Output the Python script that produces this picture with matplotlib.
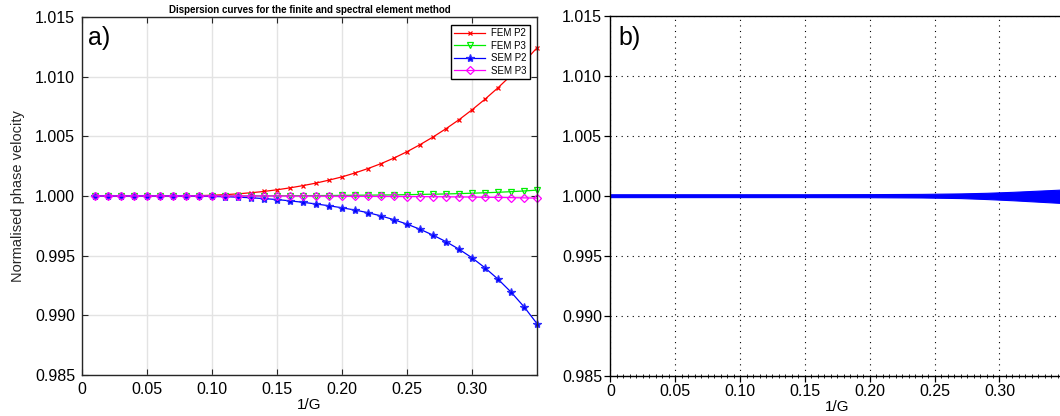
import matplotlib.pyplot as plt
from matplotlib.ticker import MultipleLocator

plt.rcParams['font.family'] = ['Liberation Sans', 'DejaVu Sans']

# 1/G sample points (panel a)
inv_g = [0.01, 0.02, 0.03, 0.04, 0.05, 0.06, 0.07, 0.08, 0.09, 0.10,
         0.11, 0.12, 0.13, 0.14, 0.15, 0.16, 0.17, 0.18, 0.19, 0.20,
         0.21, 0.22, 0.23, 0.24, 0.25, 0.26, 0.27, 0.28, 0.29, 0.30,
         0.31, 0.32, 0.33, 0.34, 0.35]

# normalised phase velocity
fem_p2 = [1.00000, 1.00000, 1.00000, 1.00000, 1.00000, 1.00001, 1.00001, 1.00002, 1.00003, 1.00006,
          1.00011, 1.00018, 1.00027, 1.00038, 1.00052, 1.00068, 1.00087, 1.00108, 1.00133, 1.00160,
          1.00193, 1.00230, 1.00271, 1.00318, 1.00371, 1.00430, 1.00494, 1.00564, 1.00639, 1.00722,
          1.00811, 1.00907, 1.01010, 1.01122, 1.01242]
fem_p3 = [1.00000, 1.00000, 1.00000, 1.00000, 1.00000, 1.00000, 1.00000, 1.00000, 1.00000, 1.00000,
          1.00000, 1.00000, 1.00001, 1.00001, 1.00002, 1.00002, 1.00003, 1.00003, 1.00004, 1.00005,
          1.00006, 1.00007, 1.00008, 1.00009, 1.00011, 1.00013, 1.00015, 1.00017, 1.00020, 1.00023,
          1.00027, 1.00031, 1.00036, 1.00042, 1.00049]
sem_p2 = [1.00000, 1.00000, 1.00000, 1.00000, 1.00000, 1.00000, 1.00000, 0.99999, 0.99998, 0.99996,
          0.99994, 0.99990, 0.99985, 0.99978, 0.99970, 0.99959, 0.99947, 0.99933, 0.99918, 0.99901,
          0.99882, 0.99860, 0.99833, 0.99801, 0.99764, 0.99721, 0.99672, 0.99617, 0.99554, 0.99482,
          0.99398, 0.99303, 0.99195, 0.99072, 0.98930]
sem_p3 = [1.00000, 1.00000, 1.00000, 1.00000, 1.00000, 1.00000, 1.00000, 1.00000, 1.00000, 1.00000,
          1.00000, 1.00000, 1.00000, 1.00000, 1.00000, 0.99999, 0.99999, 0.99999, 0.99998, 0.99998,
          0.99997, 0.99997, 0.99996, 0.99996, 0.99995, 0.99995, 0.99994, 0.99993, 0.99992, 0.99991,
          0.99989, 0.99988, 0.99986, 0.99984, 0.99982]

# panel b: envelope of the dense blue band
band_x = [0.0, 0.05, 0.10, 0.15, 0.20, 0.24, 0.27, 0.29, 0.31, 0.33, 0.35]
band_upper = [1.00012, 1.00012, 1.00012, 1.00012, 1.00013, 1.00015, 1.00019, 1.00024, 1.00032, 1.00042, 1.00052]
band_lower = [0.99988, 0.99988, 0.99988, 0.99988, 0.99987, 0.99985, 0.99980, 0.99972, 0.99962, 0.99950, 0.99938]

x_ticks = [0, 0.05, 0.10, 0.15, 0.20, 0.25, 0.30]
x_tick_labels = ["0", "0.05", "0.10", "0.15", "0.20", "0.25", "0.30"]
y_ticks = [0.985, 0.990, 0.995, 1.000, 1.005, 1.010, 1.015]
y_tick_labels = ["0.985", "0.990", "0.995", "1.000", "1.005", "1.010", "1.015"]

fig = plt.figure(figsize=(10.6, 4.16), dpi=100)
ax_a = fig.add_axes([0.0774, 0.0986, 0.4292, 0.8606])
ax_b = fig.add_axes([0.5758, 0.0969, 0.4283, 0.8654])

# ---- panel a ----
series = [
    (fem_p2, "FEM P2", dict(color="red", marker="x", markersize=3.5, mew=0.9)),
    (fem_p3, "FEM P3", dict(color="#00ee00", marker="v", markersize=5, mfc="none", mew=0.9)),
    (sem_p2, "SEM P2", dict(color="blue", marker="*", markersize=6, mec="#2a2aff", mew=0.9)),
    (sem_p3, "SEM P3", dict(color="magenta", marker="D", markersize=4, mfc="none", mew=0.9)),
]
for values, label, style in series:
    ax_a.plot(inv_g, values, label=label, linewidth=0.9, clip_on=False, **style)

ax_a.set_xlim(0, 0.35)
ax_a.set_ylim(0.985, 1.015)
ax_a.set_xticks(x_ticks)
ax_a.set_xticklabels(x_tick_labels)
ax_a.set_yticks(y_ticks)
ax_a.set_yticklabels(y_tick_labels)
ax_a.tick_params(direction="in", top=True, right=True, length=4, width=0.8,
                 labelsize=11.5, color="#262626", pad=5)
ax_a.grid(True, color="#e3e3e3", linewidth=1)
ax_a.set_axisbelow(True)
for sp in ax_a.spines.values():
    sp.set_color("#262626")
    sp.set_linewidth(1)
ax_a.set_xlabel("1/G", fontsize=11, labelpad=1)
ax_a.set_ylabel("Normalised phase velocity", fontsize=10.5, color="#262626", labelpad=7)
ax_a.set_title("Dispersion curves for the finite and spectral element method",
               fontsize=7, fontweight="bold", pad=3)
ax_a.text(0.012, 0.975, "a)", transform=ax_a.transAxes, fontsize=18, va="top", ha="left")
ax_a.legend(loc="upper right", bbox_to_anchor=(0.985, 0.978), borderaxespad=0,
            fontsize=7, fancybox=False, edgecolor="black", framealpha=1,
            handlelength=3.2, labelspacing=0.25, borderpad=0.35, handletextpad=0.6)

# ---- panel b ----
ax_b.fill_between(band_x, band_lower, band_upper, color="blue", linewidth=0.8, edgecolor="blue")
ax_b.set_xlim(0, 0.35)
ax_b.set_ylim(0.985, 1.015)
ax_b.set_xticks(x_ticks)
ax_b.set_xticklabels(x_tick_labels)
ax_b.set_yticks(y_ticks)
ax_b.set_yticklabels(y_tick_labels)
ax_b.xaxis.set_minor_locator(MultipleLocator(0.005))
ax_b.tick_params(which="major", direction="out", length=4, width=0.9, labelsize=11.5, pad=2)
ax_b.tick_params(which="minor", axis="x", direction="inout", length=2.5, width=0.6)
ax_b.grid(True, color="black", linestyle=(0, (1, 4)), linewidth=0.8)
ax_b.set_axisbelow(True)
ax_b.spines["right"].set_visible(False)
for name in ["left", "top", "bottom"]:
    ax_b.spines[name].set_linewidth(1)
ax_b.set_xlabel("1/G", fontsize=11, labelpad=1)
ax_b.text(0.018, 0.97, "b)", transform=ax_b.transAxes, fontsize=18, va="top", ha="left")

fig.savefig("out.png", dpi=100)
